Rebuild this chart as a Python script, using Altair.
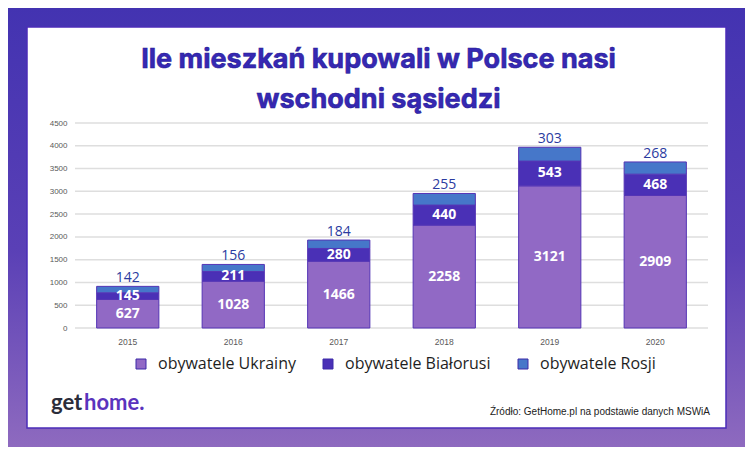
import altair as alt
import pandas as pd

# ---- data ----
years = ["2015", "2016", "2017", "2018", "2019", "2020"]
ukraina = [627, 1028, 1466, 2258, 3121, 2909]
bialorus = [145, 211, 280, 440, 543, 468]
rosja = [142, 156, 184, 255, 303, 268]
series = ["obywatele Ukrainy", "obywatele Białorusi", "obywatele Rosji"]
colors = ["#9169c5", "#4a30b6", "#4677c9"]
grid_values = [0, 500, 1000, 1500, 2000, 2500, 3000, 3500, 4000, 4500]
title_lines = ["Ile mieszkań kupowali w Polsce nasi", "wschodni sąsiedzi"]
source_text = "Źródło: GetHome.pl na podstawie danych MSWiA"

W, H = 633, 205
PAD = {"left": 67, "top": 115, "right": 37, "bottom": 119}

rows = []
for i, y in enumerate(years):
    vals = [ukraina[i], bialorus[i], rosja[i]]
    base = 0
    for k, s in enumerate(series):
        rows.append({"year": y, "series": s, "value": vals[k], "ord": k,
                     "mid": base + vals[k] / 2, "top": base + vals[k]})
        base += vals[k]
df = pd.DataFrame(rows)
inner = df[df["ord"] < 2]
outer = df[df["ord"] == 2]
grid_df = pd.DataFrame({"value": grid_values})

xscale = alt.Scale(domain=years, paddingInner=0.41, paddingOuter=0.205)
yscale = alt.Scale(domain=[0, 4500], nice=False)
xaxis = alt.Axis(title=None, labelAngle=0, domain=False, ticks=False,
                 labelPadding=9, labelFontSize=8.5, labelColor="#595959",
                 labelFont="Liberation Sans", zindex=1)
yaxis = alt.Axis(title=None, values=grid_values, format="d", grid=False, domain=False,
                 ticks=False, labelPadding=8, labelFontSize=8,
                 labelColor="#595959", labelFont="Liberation Sans", zindex=1)
one = alt.Data(values=[{"a": 1}])

bg = alt.Chart(one).mark_rect(
    color=alt.LinearGradient(
        gradient="linear", x1=0, x2=0, y1=0, y2=1,
        stops=[alt.GradientStop(color="#4333b1", offset=0),
               alt.GradientStop(color="#5a40b6", offset=0.55),
               alt.GradientStop(color="#8e6abf", offset=1)])
).encode(x=alt.value(-PAD["left"]), x2=alt.value(W + PAD["right"]),
         y=alt.value(-PAD["top"]), y2=alt.value(H + PAD["bottom"]))

card = alt.Chart(one).mark_rect(fill="white", stroke="#4b2db8", strokeWidth=1.5).encode(
    x=alt.value(-48), x2=alt.value(651), y=alt.value(-96), y2=alt.value(305))

grid = alt.Chart(grid_df).mark_rule(color="#dedede", strokeWidth=1.5).encode(
    y=alt.Y("value:Q", scale=yscale, axis=yaxis),
    x=alt.value(0), x2=alt.value(W))

bars = alt.Chart(df).mark_bar(stroke="#5535b5", strokeWidth=1, opacity=1).encode(
    x=alt.X("year:N", scale=xscale, sort=years, axis=xaxis),
    y=alt.Y("value:Q", stack="zero", scale=yscale, axis=yaxis),
    color=alt.Color("series:N", scale=alt.Scale(domain=series, range=colors),
                    legend=alt.Legend(title=None, orient="none", legendX=58, legendY=233,
                                      direction="horizontal", columns=3,
                                      symbolType="square", symbolSize=100,
                                      symbolStrokeColor="#3c2aa8", symbolStrokeWidth=1,
                                      labelFont="Open Sans", labelFontSize=16,
                                      labelColor="#1e1e1e", labelOffset=9,
                                      columnPadding=24, zindex=1)),
    order=alt.Order("ord:Q"),
)

inner_lbl = alt.Chart(inner).mark_text(
    color="white", font="Open Sans", fontWeight="bold", fontSize=14, baseline="middle"
).encode(x=alt.X("year:N", scale=xscale, sort=years, axis=xaxis),
         y=alt.Y("mid:Q", scale=yscale, axis=yaxis),
         text=alt.Text("value:Q"))

outer_lbl = alt.Chart(outer).mark_text(
    color="#2b3b9f", font="Open Sans", fontSize=14, baseline="alphabetic", dy=-4
).encode(x=alt.X("year:N", scale=xscale, sort=years, axis=xaxis),
         y=alt.Y("top:Q", scale=yscale, axis=yaxis),
         text=alt.Text("value:Q"))


def deco_text(txt, x, y, **kw):
    return alt.Chart(alt.Data(values=[{"t": txt}])).mark_text(
        baseline="alphabetic", **kw).encode(x=alt.value(x), y=alt.value(y), text="t:N")


title_kw = dict(font="Inter", fontWeight="bold", fontSize=27, color="#3628b3",
                stroke="#241b94", strokeWidth=0.6, align="center")
title1 = deco_text(title_lines[0], 303.5, -55, **title_kw)
title2 = deco_text(title_lines[1], 303.5, -15, **title_kw)

source = deco_text(source_text, 635, 292, font="Liberation Sans", fontSize=10,
                   color="#222222", align="right")
logo_get = deco_text("get", -24, 287, font="Lato", fontWeight="bold", fontSize=22,
                     color="#2b2d3a", align="left")
logo_home = deco_text("home.", 9, 287, font="Lato", fontWeight="bold", fontSize=22,
                      color="#5a33bd", align="left")

chart = alt.layer(bg, card, grid, bars, inner_lbl, outer_lbl, title1, title2, source,
                  logo_get, logo_home).properties(
    width=W, height=H, padding=PAD,
    autosize=alt.AutoSizeParams(type="none"),
).configure_view(stroke=None)

chart.save("out.html", embed_options={"renderer": "svg", "actions": False})
